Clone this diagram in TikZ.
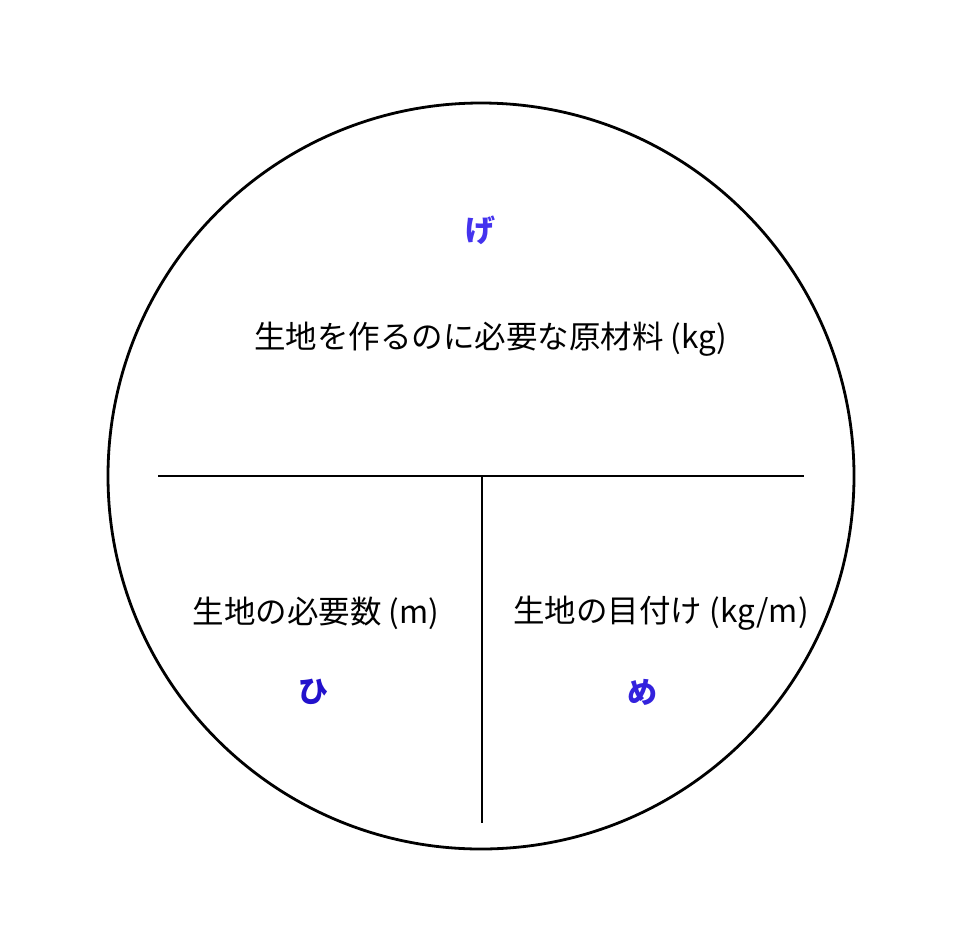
\documentclass[tikz,border=0pt]{standalone}
\usepackage{fontspec}
\setmainfont{Noto Sans CJK JP}
\newfontfamily\cjk{Noto Sans CJK JP}
\definecolor{ge}{HTML}{4433EE}
\definecolor{hi}{HTML}{2211CC}
\definecolor{me}{HTML}{3322DD}
\begin{document}
\begin{tikzpicture}[x=1pt,y=-1pt,
  lbl/.style={font=\cjk\fontsize{31.5}{36}\selectfont, inner sep=0pt, anchor=center},
  key/.style={font=\cjk\bfseries\fontsize{30}{34}\selectfont, inner sep=0pt, anchor=center},
  ln/.style={line width=2.8pt, black}]
\useasboundingbox (0,0) rectangle (960,948);
\node[circle, draw, line width=2.8pt, minimum size=746pt, inner sep=0pt] (c) at (481,476) {};
\coordinate (hl) at (158,476);
\coordinate (hr) at (804,476);
\coordinate (vt) at (482,476);
\coordinate (vb) at (482,823);
\draw[ln] (hl) -- (hr);
\draw[ln] (vt) -- (vb);
\node[key, text=ge] (g) at (480,230) {げ};
\node[lbl] (t1) at (491,339) {生地を作るのに必要な原材料 (kg)};
\node[lbl] (t2) at (316,613) {生地の必要数 (m)};
\node[lbl] (t3) at (661,613) {生地の目付け (kg/m)};
\node[key, text=hi] (h) at (313,692) {ひ};
\node[key, text=me] (m) at (642,692) {め};
\end{tikzpicture}
\end{document}
